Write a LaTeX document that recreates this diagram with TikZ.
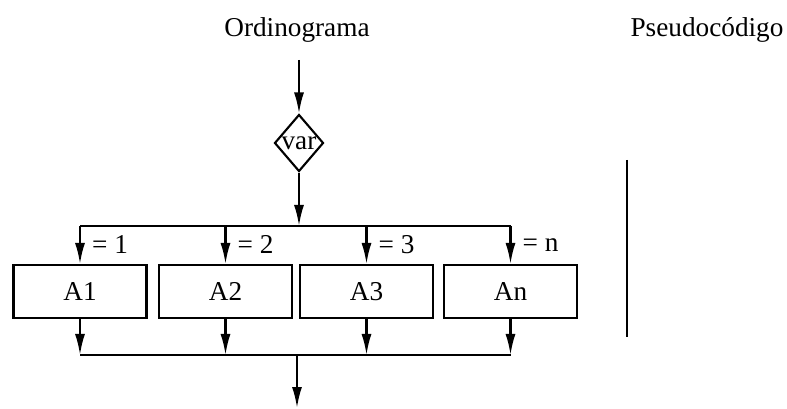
\documentclass[tikz,border=0pt]{standalone}
\usepackage{fontspec}
\setmainfont{Liberation Serif}
\usetikzlibrary{arrows.meta, shapes.geometric}

\tikzset{
    acao/.style={draw, minimum width=2.66cm, minimum height=1.06cm, inner sep=0pt},
    decisao/.style={draw, diamond, aspect=0.85, inner sep=0pt,
        minimum width=0.98cm, minimum height=1.14cm},
}

\begin{document}
\begin{tikzpicture}[>={Latex[length=0.42cm, width=0.2cm]}, line width=1.2pt,
        font=\fontsize{15.5}{18}\selectfont]
    \useasboundingbox (0, 0) rectangle (15.74, -8.18);

    % titulos
    \draw
        node (ordinograma) at (5.94, -0.6) {Ordinograma}
        node (pseudo) at (14.14, -0.6) {Pseudocódigo}
    ;

    % ordinograma
    \coordinate (inicio) at (5.98, -1.2);
    \node [decisao] (var) at (5.98, -2.86) {var};
    \draw [->] (inicio) -- (var.north);

    \draw
        node [acao] (A1) at (1.60, -5.83) {A1}
        node [acao] (A2) at (4.51, -5.83) {A2}
        node [acao] (A3) at (7.33, -5.83) {A3}
        node [acao] (An) at (10.21, -5.83) {An}
    ;
    \coordinate (topo) at (5.98, -4.52);
    \coordinate (base) at (5.94, -7.10);
    \coordinate (fim) at (5.94, -8.16);

    \draw [->] (var.south) -- (topo);
    \draw (A1.north |- topo) -- (An.north |- topo);
    \draw (A1.south |- base) -- (An.south |- base);
    \foreach \a/\v in {A1/1, A2/2, A3/3, An/n} {
        \draw [->]
            (\a.north |- topo) -- (\a.north) node [midway, right=3pt] {= \v}
        ;
        \draw [->] (\a.south) -- (\a.south |- base);
    }
    \draw [->] (base) -- (fim);

    % pseudocodigo
    \coordinate (barra1) at (12.54, -3.2);
    \coordinate (barra2) at (12.54, -6.74);
    \draw (barra1) -- (barra2);
\end{tikzpicture}
\end{document}
